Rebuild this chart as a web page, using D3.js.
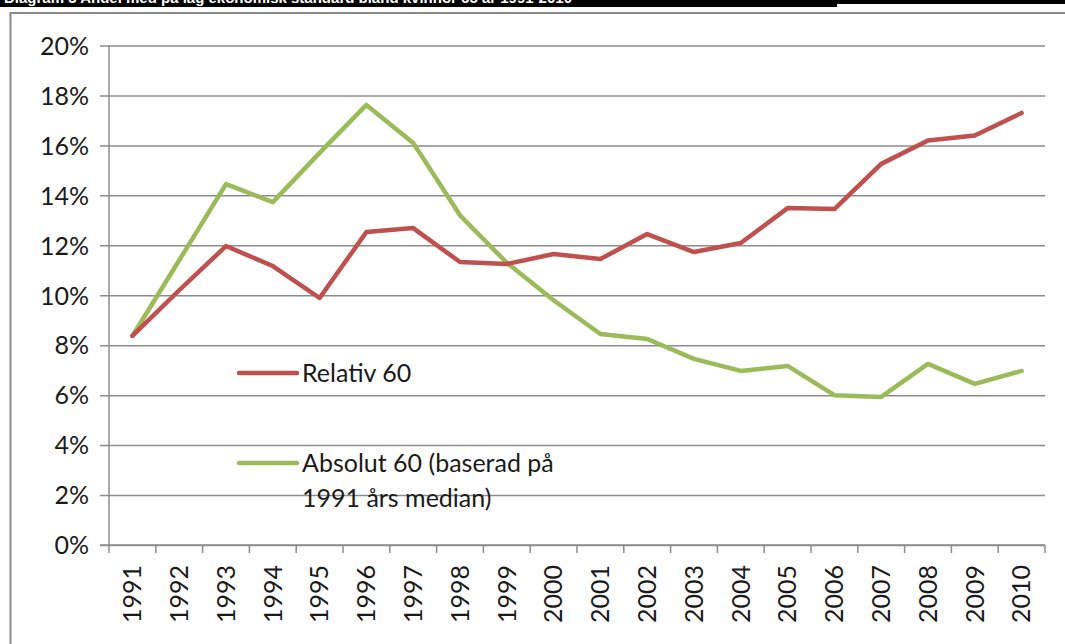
<!DOCTYPE html>
<html>
<head>
<meta charset="utf-8">
<script src="https://cdn.jsdelivr.net/npm/d3@7"></script>
<style>
  html, body { margin: 0; padding: 0; background: #fff; overflow: hidden; }
  svg { display: block; }
  text { font-family: Lato, "Open Sans", sans-serif; fill: #1a1a1a; }
</style>
</head>
<body>
<svg id="chart" width="1065" height="644"></svg>
<script>
const titleText = "Diagram 3 Andel med på låg ekonomisk standard bland kvinnor 65 år 1991-2010";
const years = ["1991","1992","1993","1994","1995","1996","1997","1998","1999","2000",
               "2001","2002","2003","2004","2005","2006","2007","2008","2009","2010"];
const relativ60 = [8.37, 10.2, 11.97, 11.17, 9.89, 12.53, 12.69, 11.33, 11.25, 11.65,
                   11.45, 12.45, 11.73, 12.09, 13.49, 13.45, 15.26, 16.2, 16.4, 17.3];
const absolut60 = [8.37, 11.4, 14.45, 13.73, 15.7, 17.62, 16.1, 13.2, 11.3, 9.8,
                   8.45, 8.25, 7.45, 6.97, 7.17, 6.0, 5.93, 7.25, 6.45, 6.97];
const yTicks = [0, 2, 4, 6, 8, 10, 12, 14, 16, 18, 20];
const seriesNames = ["Relativ 60", "Absolut 60 (baserad på", "1991 års median)"];
const colors = { relativ: "#C0504D", absolut: "#9BBB59" };

const svg = d3.select("#chart");

// title bar (cut off at top, as in the source image)
svg.append("rect").attr("x", 0).attr("y", 0).attr("width", 1065).attr("height", 4).attr("fill", "#000");
svg.append("rect").attr("x", 0).attr("y", 0).attr("width", 837).attr("height", 7).attr("fill", "#000");
svg.append("text").attr("x", 4).attr("y", 3)
  .style("font-family", "'Liberation Sans', Arial, sans-serif")
  .style("font-weight", "bold").style("font-size", "15px").style("fill", "#fff")
  .text(titleText);

// chart frame (left and top edges visible)
svg.append("path").attr("d", "M10.5,644 L10.5,13 L1065,13")
  .attr("fill", "none").attr("stroke", "#8a8a8a").attr("stroke-width", 2);

const pLeft = 109, pRight = 1045, pTop = 45.5, pBottom = 545;
const x = d3.scaleBand().domain(years).range([pLeft, pRight]);
const y = d3.scaleLinear().domain([0, 20]).range([pBottom, pTop]);
const cx = d => x(d) + x.bandwidth() / 2;

// gridlines + y labels
const yAxis = d3.axisLeft(y).tickValues(yTicks).tickSize(-(pRight - pLeft) - 9)
  .tickFormat(d => d + "%").tickPadding(20);
const gy = svg.append("g").attr("transform", `translate(${pLeft - 9},0)`).call(yAxis);
gy.select(".domain").remove();
gy.selectAll(".tick line").attr("stroke", "#8c8c8c").attr("stroke-width", 1.5);
gy.selectAll(".tick text").style("font-size", "25px").style("fill", "#1a1a1a")
  .attr("x", -11).attr("dy", "0.35em");

// y axis line
svg.append("line").attr("x1", pLeft).attr("x2", pLeft).attr("y1", pTop).attr("y2", pBottom)
  .attr("stroke", "#8c8c8c").attr("stroke-width", 1.5);

// x axis
const xAxis = d3.axisBottom(x).tickSize(0).tickPadding(0);
const gx = svg.append("g").attr("transform", `translate(0,${pBottom})`).call(xAxis);
gx.select(".domain").attr("stroke", "#8c8c8c").attr("stroke-width", 1.5)
  .attr("d", `M${pLeft - 9},0H${pRight}`);
gx.selectAll(".tick line").remove();
gx.selectAll(".tick text").style("font-size", "25px").style("fill", "#1a1a1a")
  .attr("transform", "rotate(-90)").attr("text-anchor", "end")
  .attr("x", -20).attr("y", 0).attr("dy", "0.35em");
// boundary tick marks
const bounds = years.map(d => x(d)).concat([pRight]);
svg.append("g").selectAll("line").data(bounds).join("line")
  .attr("x1", d => d).attr("x2", d => d).attr("y1", pBottom).attr("y2", pBottom + 8)
  .attr("stroke", "#8c8c8c").attr("stroke-width", 1.5);

// lines
const line = d3.line().x((d, i) => cx(years[i])).y(d => y(d));
svg.append("path").datum(absolut60).attr("d", line).attr("fill", "none")
  .attr("stroke", colors.absolut).attr("stroke-width", 4.5)
  .attr("stroke-linejoin", "round").attr("stroke-linecap", "round");
svg.append("path").datum(relativ60).attr("d", line).attr("fill", "none")
  .attr("stroke", colors.relativ).attr("stroke-width", 4.5)
  .attr("stroke-linejoin", "round").attr("stroke-linecap", "round");

// legend
const lg = svg.append("g");
lg.append("line").attr("x1", 239).attr("x2", 297).attr("y1", 373).attr("y2", 373)
  .attr("stroke", colors.relativ).attr("stroke-width", 4.5).attr("stroke-linecap", "round");
lg.append("text").attr("x", 302).attr("y", 382).style("font-size", "25px").text(seriesNames[0]);
lg.append("line").attr("x1", 239).attr("x2", 297).attr("y1", 463).attr("y2", 463)
  .attr("stroke", colors.absolut).attr("stroke-width", 4.5).attr("stroke-linecap", "round");
lg.append("text").attr("x", 302).attr("y", 472).style("font-size", "25px").text(seriesNames[1]);
lg.append("text").attr("x", 302).attr("y", 507).style("font-size", "25px").text(seriesNames[2]);
</script>
</body>
</html>
